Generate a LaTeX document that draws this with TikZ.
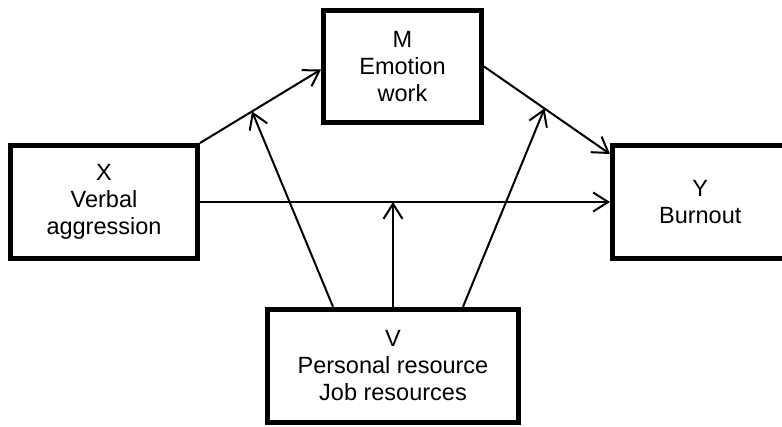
\documentclass[tikz,border=0pt]{standalone}
\usepackage{fontspec}
\setmainfont{Liberation Sans}
\usetikzlibrary{arrows.meta,calc}
\tikzset{
  box/.style={draw, line width=5bp, inner sep=0pt, align=center,
    font=\fontsize{23.5bp}{27bp}\selectfont},
  link/.style={line width=2bp, -{Straight Barb[length=15bp,width=19bp]}},
}

\begin{document}
\begin{tikzpicture}[x=1bp,y=-1bp]
		%%%%% START %%%%%
		\useasboundingbox (0,0) rectangle (782,426);
		
		\node[box, minimum width=187bp, minimum height=113bp] (X) at (104,202) {X\\Verbal\\aggression};
		\node[box, minimum width=158bp, minimum height=112bp] (M) at (402.5,66.5) {M\\Emotion\\work};
		\node[box, minimum width=175.5bp, minimum height=113bp] (Y) at (700.25,202) {Y\\Burnout};
		\node[box, minimum width=251bp, minimum height=113.5bp] (V) at (393,366) {V\\Personal resource\\Job resources};
		
		\draw[link] (X.north east) -- coordinate[pos=0.43] (xm) ($(M.west)+(0,3)$);
		\draw[link] (M.east) -- coordinate[pos=0.48] (my) ($(Y.north west)+(0,11)$);
		\draw[link] (X.east) -- (Y.west);
		
		\draw[link] ([xshift=-60bp]V.north) -- (xm);
		\draw[link] (V.north) -- (V.north |- X.east);
		\draw[link] ([xshift=70bp]V.north) -- (my);
		%%%%% END %%%%%
	\end{tikzpicture}
\end{document}
